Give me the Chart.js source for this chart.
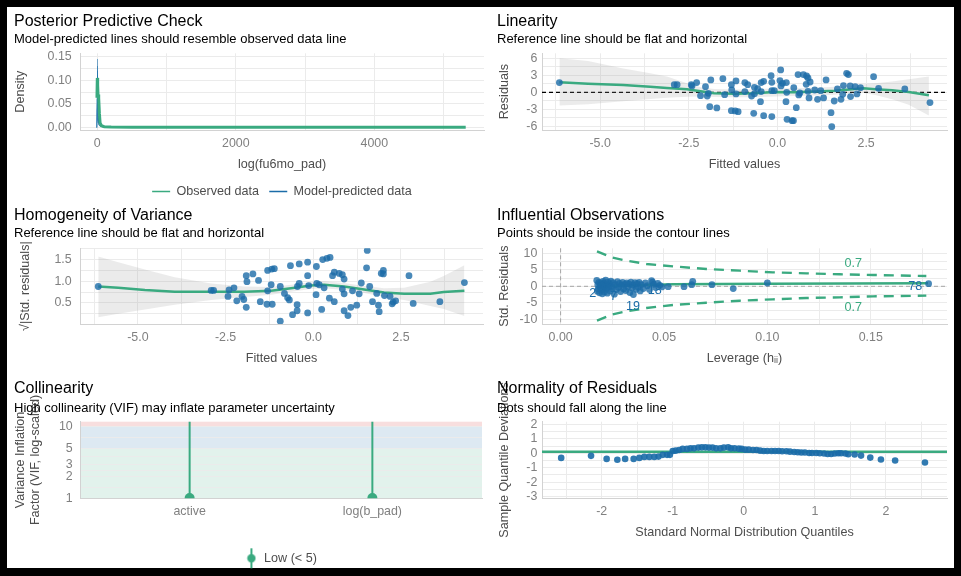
<!DOCTYPE html>
<html lang="en">
<head>
    <meta charset="UTF-8">
    <title>Model diagnostics</title>
    <style>
        html, body { margin: 0; padding: 0; background: #000; overflow: hidden; width: 961px; height: 576px; }
        .sheet { position: absolute; left: 7px; top: 7px; width: 947px; height: 561px; background: #fff; }
        canvas { position: absolute; }
    </style>
</head>
<body>
    <div class="sheet"></div>
    <canvas id="ppc" width="480" height="202" style="left:7px;top:7px"></canvas>
    <canvas id="lin" width="461" height="165" style="left:490px;top:7px"></canvas>
    <canvas id="hom" width="480" height="161" style="left:7px;top:205px"></canvas>
    <canvas id="inf" width="461" height="161" style="left:490px;top:205px"></canvas>
    <canvas id="vif" width="480" height="197" style="left:7px;top:378px"></canvas>
    <canvas id="qq" width="461" height="163" style="left:490px;top:378px"></canvas>

    <script src="https://cdn.jsdelivr.net/npm/chart.js"></script>
    <script>
        // ---- data ----

        // posterior predictive check (density curves)
        const ppcObsX = [-5, 0, 5, 10, 20, 30, 40, 60, 100, 200, 500, 1000, 2000, 3000, 4000, 5320];
        const ppcObsY = [0.063, 0.105, 0.09, 0.07, 0.062, 0.03, 0.01, 0.004, 0.002, 0.0015, 0.001, 0.0009, 0.0008, 0.0008, 0.0008, 0.0008];
        const ppcPredX = [-8, -2, 0, 3, 6, 10, 15, 25, 40, 80, 200, 500, 1100];
        const ppcPred = [
            [0, 0.06, 0.145, 0.1, 0.05, 0.02, 0.01, 0.005, 0.003, 0.002, 0.001, 0.0006, 0.0003],
            [0, 0.08, 0.13, 0.09, 0.06, 0.03, 0.012, 0.006, 0.004, 0.002, 0.001, 0.0005, 0.0002],
            [0, 0.05, 0.12, 0.11, 0.07, 0.025, 0.01, 0.005, 0.003, 0.002, 0.0012, 0.0005, 0.0002],
            [0, 0.07, 0.11, 0.1, 0.08, 0.04, 0.015, 0.007, 0.004, 0.002, 0.001, 0.0006, 0.0003],
            [0, 0.04, 0.1, 0.095, 0.07, 0.035, 0.015, 0.006, 0.003, 0.0015, 0.0009, 0.0004, 0.0002]
        ];
        const ppcLegend = ['Observed data', 'Model-predicted data'];

        // linearity: [fitted, residual]
        const linearityPoints = [
            [-6.15, 1.71], [-2.91, 1.35], [-2.83, 1.35], [-2.43, 1.35], [-2.41, 1.12], [-2.28, 1.71], [-2.17, -0.59],
            [-2.03, 1.0], [-1.98, -0.65], [-1.95, -0.18], [-1.88, 2.18], [-1.91, -2.53], [-1.71, -2.76], [-1.54, 2.41],
            [-1.49, -0.41], [-1.30, 1.35], [-1.29, 0.41], [-1.17, 2.0], [-1.17, -0.29], [-1.30, -3.24], [-1.19, -3.29],
            [-1.11, -3.41], [-0.92, 1.71], [-0.84, 1.35], [-0.92, 0.12], [-0.73, -0.65], [-0.65, 0.88], [-0.56, 0.65],
            [-0.67, -3.71], [-0.46, 1.71], [-0.39, 1.94], [-0.46, 0.12], [-0.48, -1.65], [-0.39, -4.12], [-0.18, 2.94],
            [-0.16, 1.76], [-0.16, 0.29], [-0.16, -4.29], [0.09, 3.94], [0.07, 2.06], [0.10, 1.12], [0.14, 1.59],
            [0.25, 1.71], [0.26, 0.0], [0.24, -1.65], [0.27, -4.76], [0.41, -5.0], [0.45, -5.0], [0.46, 0.82],
            [0.53, -2.71], [0.60, -0.47], [0.58, 3.12], [0.73, 3.12], [0.82, 2.88], [0.86, 2.53], [0.92, 1.82],
            [0.81, 1.41], [0.86, 0.18], [0.89, -1.0], [1.05, 0.41], [1.13, -1.24], [1.22, 0.29], [1.30, -1.0],
            [1.37, 2.18], [1.51, -3.59], [1.53, -6.06], [1.60, -1.53], [1.69, 0.59], [1.79, -1.24], [1.84, -0.35],
            [1.86, 1.18], [1.95, 3.35], [2.00, 3.12], [2.05, 1.12], [2.06, -0.76], [2.19, 1.0], [2.24, -0.29],
            [2.34, 0.82], [2.71, 2.76], [2.85, 0.71], [3.59, 0.59], [4.30, -1.82], [-0.65, -0.24], [-0.09, 0.29], [0.63, -0.12]
        ];
        const linSmoothX = [-6.15, -5.34, -4.35, -3.59, -3.12, -2.55, -2.17, -1.79, -1.22, -0.65, -0.09, 0.48, 1.05, 1.62, 2.19, 2.42, 2.76, 3.23, 3.70, 4.27];
        const linSmoothY = [1.76, 1.53, 1.29, 1.0, 0.76, 0.53, 0.18, -0.18, -0.24, -0.18, 0.06, 0.0, 0.12, 0.29, 0.59, 0.71, 0.53, 0.35, 0.06, -0.53];
        const linBandHi = [6.0, 5.5, 4.2, 3.35, 2.8, 1.6, 0.9, 0.6, 0.5, 0.5, 0.7, 0.7, 0.8, 1.0, 1.2, 1.4, 1.6, 1.9, 2.3, 2.8];
        const linBandLo = [-2.35, -2.1, -1.6, -1.2, -0.95, -0.8, -0.76, -0.85, -0.88, -0.88, -0.75, -0.65, -0.55, -0.45, -0.06, -0.1, -0.47, -1.24, -2.2, -4.1];

        // homogeneity of variance: [fitted, sqrt|std. residual|]
        const homogeneityPoints = [
            [-6.13, 0.88], [-2.91, 0.79], [-2.84, 0.79], [-2.43, 0.65], [-2.40, 0.80], [-2.26, 0.85], [-2.18, 0.55],
            [-2.03, 0.65], [-1.98, 0.58], [-1.91, 0.40], [-1.91, 1.13], [-1.89, 0.99], [-1.72, 1.17], [-1.56, 1.02],
            [-1.51, 0.53], [-1.32, 0.47], [-1.30, 1.25], [-1.18, 1.28], [-1.11, 1.29], [-1.20, 0.92], [-1.17, 0.47],
            [-1.30, 0.78], [-0.94, 0.88], [-0.94, 0.08], [-0.82, 0.72], [-0.73, 0.62], [-0.68, 0.57], [-0.65, 1.36],
            [-0.59, 0.23], [-0.46, 0.46], [-0.46, 0.32], [-0.45, 0.88], [-0.40, 0.95], [-0.40, 1.40], [-0.16, 1.13],
            [-0.16, 1.44], [-0.16, 0.27], [-0.13, 0.90], [0.08, 0.69], [0.09, 1.34], [0.10, 0.95], [0.17, 0.92],
            [0.24, 0.35], [0.27, 1.50], [0.39, 1.53], [0.48, 1.55], [0.31, 0.85], [0.46, 0.61], [0.55, 1.13],
            [0.60, 0.53], [0.60, 1.21], [0.74, 1.18], [0.83, 1.15], [0.88, 1.05], [0.83, 0.82], [0.88, 0.71],
            [0.88, 0.32], [0.99, 0.21], [1.07, 0.40], [1.12, 0.78], [1.24, 0.45], [1.31, 0.71], [1.37, 0.96],
            [1.52, 1.31], [1.54, 1.71], [1.61, 0.88], [1.69, 0.53], [1.81, 0.72], [1.86, 0.45], [1.88, 0.30],
            [1.94, 1.18], [2.00, 1.25], [2.00, 1.17], [2.03, 0.67], [2.19, 0.65], [2.25, 0.48], [2.28, 0.52],
            [2.35, 0.55], [2.73, 1.13], [2.85, 0.49], [3.61, 0.53], [4.31, 0.97]
        ];
        const homSmoothX = [-6.13, -5.56, -4.80, -3.95, -2.91, -1.96, -1.20, -0.63, -0.07, 0.31, 0.88, 1.45, 2.02, 2.59, 3.34, 3.72, 4.31];
        const homSmoothY = [0.88, 0.85, 0.80, 0.76, 0.76, 0.76, 0.78, 0.84, 0.90, 0.92, 0.88, 0.81, 0.74, 0.71, 0.71, 0.75, 0.78];
        const homBandHi = [1.57, 1.44, 1.27, 1.09, 0.95, 0.88, 0.87, 0.92, 0.98, 1.0, 0.96, 0.89, 0.84, 0.85, 0.99, 1.12, 1.37];
        const homBandLo = [0.17, 0.25, 0.35, 0.46, 0.57, 0.64, 0.69, 0.76, 0.82, 0.84, 0.80, 0.73, 0.64, 0.57, 0.43, 0.36, 0.20];

        // influential observations: [leverage, std. residual]
        const influencePoints = [
            [0.0175, 1.8], [0.0178, -1.5], [0.018, 0.5], [0.0182, -0.8], [0.0185, 1.2], [0.0188, -2.0], [0.019, 0.2],
            [0.0192, -0.3], [0.0195, 1.0], [0.0198, -1.2], [0.020, 0.6], [0.0202, -2.3], [0.0205, 1.5], [0.0208, -0.6],
            [0.021, 0.9], [0.0212, -1.7], [0.0215, 0.1], [0.0218, 1.9], [0.022, -0.9], [0.0223, 0.4], [0.0226, -2.1],
            [0.023, 1.3], [0.0233, -0.2], [0.0236, 0.8], [0.024, -1.4], [0.0243, 1.6], [0.0247, 0.0], [0.025, -0.7],
            [0.0255, 1.1], [0.026, -2.4], [0.0265, 0.5], [0.027, -1.0], [0.0275, 1.4], [0.028, -0.4], [0.0285, 0.9],
            [0.029, -1.6], [0.0295, 0.3], [0.030, 1.2], [0.0305, -0.8], [0.031, 0.6], [0.0315, -1.3], [0.032, 1.0],
            [0.0325, -0.1], [0.033, 0.7], [0.0335, -1.9], [0.034, 1.3], [0.0345, -0.5], [0.035, 0.4], [0.0352, -2.5],
            [0.036, 1.1], [0.0365, -0.9], [0.037, 0.8], [0.0375, -0.3], [0.038, 1.2], [0.0385, -1.4], [0.039, 0.5],
            [0.040, -0.7], [0.041, 1.0], [0.042, 0.2], [0.043, -1.0], [0.044, 1.7], [0.0445, 1.3], [0.045, 0.6],
            [0.046, -0.4], [0.047, 0.9], [0.048, 0.3], [0.049, -0.2], [0.052, -0.1], [0.0597, -0.1], [0.0634, 0.5],
            [0.0639, 1.5], [0.0732, 0.5], [0.0835, -0.7], [0.100, 1.0], [0.178, 0.8]
        ];
        const infSmoothX = [0.0177, 0.0382, 0.0544, 0.0995, 0.1777];
        const infSmoothY = [0.0, 0.31, 0.61, 0.81, 0.91];
        const contourX = [0.0176, 0.0245, 0.0318, 0.0415, 0.0544, 0.0705, 0.0866, 0.1027, 0.1189, 0.135, 0.1511, 0.1769];
        const contourUpper = [10.65, 8.82, 7.81, 6.79, 6.08, 5.27, 4.76, 4.25, 3.95, 3.65, 3.44, 3.14];
        const contourLower = [-10.47, -8.64, -7.62, -6.61, -5.70, -4.99, -4.38, -3.97, -3.56, -3.36, -3.06, -2.85];
        const infLabelText = ['2', '7', '18', '19', '78'];
        const infLabelLev = [0.0156, 0.0256, 0.0455, 0.035, 0.1716];
        const infLabelRes = [-2.35, -3.05, -1.33, -6.1, -0.1];
        const contourLabelText = ['0.7', '0.7'];
        const contourLabelLev = [0.1415, 0.1415];
        const contourLabelRes = [7.0, -6.6];

        // collinearity
        const vifCategories = ['active', 'log(b_pad)'];
        const vifValues = [1.01, 1.01];
        const vifUpper = [16, 16];
        const vifZones = [1, 5, 10, 100];
        const vifLegendLabels = ['Low (< 5)'];

        // normality: [theoretical quantile, sample deviation]
        const qqPoints = [
            [-2.57, -0.32], [-2.15, -0.18], [-1.93, -0.39], [-1.78, -0.45], [-1.67, -0.39], [-1.55, -0.39], [-1.47, -0.32],
            [-1.40, -0.25], [-1.33, -0.25], [-1.26, -0.25], [-1.20, -0.23], [-1.14, -0.11], [-1.08, -0.11], [-1.04, -0.11],
            [-1.00, 0.16], [-0.96, 0.18], [-0.91, 0.23], [-0.86, 0.30], [-0.80, 0.30], [-0.75, 0.34], [-0.70, 0.34],
            [-0.64, 0.39], [-0.59, 0.41], [-0.54, 0.41], [-0.49, 0.39], [-0.44, 0.39], [-0.39, 0.34], [-0.33, 0.34],
            [-0.28, 0.39], [-0.22, 0.41], [-0.18, 0.34], [-0.13, 0.34], [-0.07, 0.32], [-0.03, 0.30], [0.02, 0.25],
            [0.07, 0.25], [0.13, 0.23], [0.18, 0.23], [0.23, 0.18], [0.28, 0.16], [0.33, 0.16], [0.39, 0.16],
            [0.44, 0.16], [0.49, 0.16], [0.54, 0.14], [0.60, 0.14], [0.65, 0.11], [0.71, 0.09], [0.76, 0.07],
            [0.81, 0.05], [0.86, 0.05], [0.92, 0.02], [0.96, 0.02], [1.02, 0.02], [1.07, 0.0], [1.13, -0.02],
            [1.18, -0.05], [1.23, -0.05], [1.28, -0.02], [1.33, 0.0], [1.37, 0.0], [1.43, -0.02], [1.47, -0.07],
            [1.56, -0.09], [1.65, -0.16], [1.78, -0.30], [1.93, -0.43], [2.13, -0.50], [2.55, -0.64]
        ];
        const qqRefLine = [0.1];

        // tick values and labels
        const ppcXTicks = [0, 2000, 4000], ppcXLabels = ['0', '2000', '4000'];
        const ppcYTicks = [0, 0.05, 0.1, 0.15], ppcYLabels = ['0.00', '0.05', '0.10', '0.15'];
        const fittedTicks = [-5, -2.5, 0, 2.5], fittedLabels = ['-5.0', '-2.5', '0.0', '2.5'];
        const residTicks = [-6, -3, 0, 3, 6], residLabels = ['-6', '-3', '0', '3', '6'];
        const sqrtTicks = [0.5, 1, 1.5], sqrtLabels = ['0.5', '1.0', '1.5'];
        const levTicks = [0, 0.05, 0.1, 0.15], levLabels = ['0.00', '0.05', '0.10', '0.15'];
        const stdResTicks = [-10, -5, 0, 5, 10], stdResLabels = ['-10', '-5', '0', '5', '10'];
        const vifTicks = [1, 2, 3, 5, 10], vifTickLabels = ['1', '2', '3', '5', '10'];
        const qqXTicks = [-2, -1, 0, 1, 2], qqXLabels = ['-2', '-1', '0', '1', '2'];
        const qqYTicks = [-3, -2, -1, 0, 1, 2], qqYLabels = ['-3', '-2', '-1', '0', '1', '2'];

        // ---- drawing ----
        const GREEN = '#3aaa80';
        const BLUE = '#1b6ca8';
        const FONT = "'Liberation Sans', Arial, sans-serif";

        Chart.defaults.font.family = FONT;
        Chart.defaults.animation = false;
        Chart.defaults.events = [];
        Chart.defaults.plugins.tooltip.enabled = false;

        // reference lines, background zones and text labels placed through the scales
        const refs = {
            id: 'refs',
            beforeDraw(chart, args, o) {
                const { ctx, chartArea: a, scales: { y } } = chart;
                (o.zones || []).forEach(z => {
                    const top = y.getPixelForValue(Math.min(z.to, y.max));
                    const bot = y.getPixelForValue(Math.max(z.from, y.min));
                    ctx.fillStyle = z.color;
                    ctx.fillRect(a.left, top, a.right - a.left, bot - top);
                });
            },
            beforeDatasetsDraw(chart, args, o) {
                const { ctx, chartArea: a, scales: { x, y } } = chart;
                ctx.save();
                (o.lines || []).forEach(l => {
                    ctx.beginPath();
                    ctx.strokeStyle = l.color;
                    ctx.lineWidth = l.width;
                    ctx.setLineDash(l.dash || []);
                    if (l.axis === 'y') {
                        const p = y.getPixelForValue(l.value);
                        ctx.moveTo(a.left, p); ctx.lineTo(a.right, p);
                    } else {
                        const p = x.getPixelForValue(l.value);
                        ctx.moveTo(p, a.top); ctx.lineTo(p, a.bottom);
                    }
                    ctx.stroke();
                });
                ctx.restore();
            },
            afterDatasetsDraw(chart, args, o) {
                const { ctx, scales: { x, y } } = chart;
                ctx.save();
                ctx.font = '12.6px ' + FONT;
                ctx.textAlign = 'center';
                ctx.textBaseline = 'middle';
                (o.texts || []).forEach(t => {
                    ctx.fillStyle = t.color;
                    ctx.fillText(t.text, x.getPixelForValue(t.x), y.getPixelForValue(t.y));
                });
                ctx.restore();
            }
        };
        Chart.register(refs);

        function axis(pos, o) {
            const all = o.major.concat(o.minor || []).sort((a, b) => a - b);
            return {
                type: o.type || 'linear',
                position: pos,
                bounds: 'data',
                min: o.min,
                max: o.max,
                afterBuildTicks: s => { s.ticks = all.map(v => ({ value: v })); },
                afterFit: s => { if (pos === 'left') s.width = o.size; else s.height = o.size; },
                grid: { display: o.grid !== false, color: '#ebebeb', lineWidth: 1, drawTicks: false },
                border: { display: true, color: '#d2d2d2', width: 1 },
                ticks: {
                    padding: o.pad, color: '#808080', font: { size: 12.4 }, maxRotation: 0, autoSkip: false,
                    callback: v => { const i = o.major.indexOf(v); return i < 0 ? '' : o.labels[i]; }
                },
                title: {
                    display: !!o.title, text: o.title, color: '#4d4d4d', font: { size: 12.6 },
                    padding: pos === 'left' ? { top: o.tpad || 0, bottom: 0 } : { top: 0, bottom: o.tpad || 0 }
                }
            };
        }

        const pts = (pairs, color, r) => ({
            data: pairs.map(([x, y]) => ({ x, y })),
            backgroundColor: color, pointBackgroundColor: color,
            pointBorderWidth: 0, borderWidth: 0, pointRadius: r
        });
        const line = (xs, ys, color, w, dash) => ({
            type: 'line', data: xs.map((x, i) => ({ x, y: ys[i] })),
            borderColor: color, borderWidth: w, borderDash: dash || [], pointRadius: 0, fill: false, tension: 0
        });
        const band = (xs, hi, lo) => [
            { type: 'line', data: xs.map((x, i) => ({ x, y: hi[i] })), borderWidth: 0, pointRadius: 0,
              fill: '+1', backgroundColor: 'rgba(153,153,153,0.2)', tension: 0 },
            { type: 'line', data: xs.map((x, i) => ({ x, y: lo[i] })), borderWidth: 0, pointRadius: 0, fill: false, tension: 0 }
        ];

        function panel(id, o) {
            return new Chart(document.getElementById(id), {
                type: 'scatter',
                data: { datasets: o.datasets },
                options: {
                    responsive: false,
                    layout: { padding: o.padding },
                    scales: { x: o.x, y: o.y },
                    plugins: {
                        title: { display: true, text: o.title, align: 'start', color: '#000', font: { size: 16, weight: 'normal' }, padding: o.tp },
                        subtitle: { display: true, text: o.subtitle, align: 'start', color: '#000', font: { size: 13 }, padding: o.sp },
                        legend: o.legend || { display: false },
                        refs: o.refs || {}
                    }
                }
            });
        }

        const rowTop1 = { tp: { top: 4.7, bottom: 1.1 }, sp: { top: 0, bottom: 5.7 } };
        const rowTop2 = { tp: { top: 0.7, bottom: 1.1 }, sp: { top: 0, bottom: 6.7 } };
        const rowTop3 = { tp: { top: 1.4, bottom: 2.4 }, sp: { top: 0, bottom: 5.1 } };

        // Posterior Predictive Check
        panel('ppc', {
            ...rowTop1,
            title: 'Posterior Predictive Check',
            subtitle: 'Model-predicted lines should resemble observed data line',
            padding: { left: 7, right: 3, top: 0, bottom: 1.2 },
            datasets: [line(ppcObsX, ppcObsY, GREEN, 3)]
                .concat(ppcPred.map(ys => line(ppcPredX, ys, 'rgba(27,108,168,0.35)', 1))),
            x: axis('bottom', { min: -250, max: 5584, major: ppcXTicks, labels: ppcXLabels, minor: [1000, 3000, 5000],
                size: 45, pad: 6.3, title: 'log(fu6mo_pad)', tpad: 3.1 }),
            y: axis('left', { min: -0.005, max: 0.157, major: ppcYTicks, labels: ppcYLabels, minor: [0.025, 0.075, 0.125],
                size: 66, pad: 8.3, title: 'Density', tpad: -1 }),
            legend: {
                display: true, position: 'bottom', fullSize: false,
                labels: {
                    boxWidth: 18, boxHeight: 1.5, padding: 10.2, color: '#4d4d4d', font: { size: 12.6 },
                    generateLabels: () => [GREEN, BLUE].map((c, i) => ({
                        text: ppcLegend[i], fillStyle: c, strokeStyle: c, lineWidth: 0, fontColor: '#4d4d4d', datasetIndex: i
                    }))
                }
            }
        });

        // Linearity
        panel('lin', {
            ...rowTop1,
            title: 'Linearity',
            subtitle: 'Reference line should be flat and horizontal',
            padding: { left: 7, right: 4, top: 0, bottom: 0 },
            datasets: [
                pts(linearityPoints, 'rgba(27,108,168,0.8)', 3.4),
                line(linSmoothX, linSmoothY, GREEN, 2.5)
            ].concat(band(linSmoothX, linBandHi, linBandLo)),
            x: axis('bottom', { min: -6.64, max: 4.78, major: fittedTicks, labels: fittedLabels, minor: [-6.25, -3.75, -1.25, 1.25, 3.75],
                size: 42, pad: 6.3, title: 'Fitted values', tpad: 0.1 }),
            y: axis('left', { min: -6.65, max: 6.88, major: residTicks, labels: residLabels, minor: [-4.5, -1.5, 1.5, 4.5],
                size: 45, pad: 4.7, title: 'Residuals', tpad: 0 }),
            refs: { lines: [{ axis: 'y', value: 0, color: '#000', width: 1.2, dash: [4, 3] }] }
        });

        // Homogeneity of Variance
        panel('hom', {
            ...rowTop2,
            title: 'Homogeneity of Variance',
            subtitle: 'Reference line should be flat and horizontal',
            padding: { left: 7, right: 3, top: 0, bottom: 0 },
            datasets: [
                pts(homogeneityPoints, 'rgba(27,108,168,0.8)', 3.4),
                line(homSmoothX, homSmoothY, GREEN, 2.5)
            ].concat(band(homSmoothX, homBandHi, homBandLo)),
            x: axis('bottom', { min: -6.65, max: 4.84, major: fittedTicks, labels: fittedLabels, minor: [-6.25, -3.75, -1.25, 1.25, 3.75],
                size: 42, pad: 6.3, title: 'Fitted values', tpad: 0.4 }),
            y: axis('left', { min: 0.015, max: 1.76, major: sqrtTicks, labels: sqrtLabels, minor: [0.25, 0.75, 1.25, 1.75],
                size: 66, pad: 8.3, title: '√|Std. residuals|', tpad: 4.1 })
        });

        // Influential Observations
        panel('inf', {
            ...rowTop2,
            title: 'Influential Observations',
            subtitle: 'Points should be inside the contour lines',
            padding: { left: 7, right: 4, top: 0, bottom: 0 },
            datasets: [
                pts(influencePoints, 'rgba(27,108,168,0.8)', 3.4),
                line(infSmoothX, infSmoothY, GREEN, 2.5),
                line(contourX, contourUpper, GREEN, 2.4, [10, 7]),
                line(contourX, contourLower, GREEN, 2.4, [10, 7])
            ],
            x: axis('bottom', { min: -0.009, max: 0.1869, major: levTicks, labels: levLabels, minor: [0.025, 0.075, 0.125, 0.175],
                size: 42, pad: 6.3, title: 'Leverage (hᵢᵢ)', tpad: 0.4 }),
            y: axis('left', { min: -11.48, max: 11.57, major: stdResTicks, labels: stdResLabels, minor: [-7.5, -2.5, 2.5, 7.5],
                size: 45, pad: 4.7, title: 'Std. Residuals', tpad: 0 }),
            refs: {
                lines: [
                    { axis: 'x', value: 0, color: '#a6a6a6', width: 1, dash: [4, 3] },
                    { axis: 'y', value: 0, color: '#a6a6a6', width: 1, dash: [4, 3] }
                ],
                texts: infLabelText.map((t, i) => ({ text: t, x: infLabelLev[i], y: infLabelRes[i], color: BLUE }))
                    .concat(contourLabelText.map((t, i) => ({ text: t, x: contourLabelLev[i], y: contourLabelRes[i], color: GREEN })))
            }
        });

        // Collinearity
        const vifMarker = document.createElement('canvas');
        vifMarker.width = 10;
        vifMarker.height = 22;
        const mk = vifMarker.getContext('2d');
        mk.strokeStyle = GREEN; mk.lineWidth = 2;
        mk.beginPath(); mk.moveTo(5, 1); mk.lineTo(5, 21); mk.stroke();
        mk.fillStyle = GREEN;
        mk.beginPath(); mk.arc(5, 11, 4.2, 0, Math.PI * 2); mk.fill();

        panel('vif', {
            ...rowTop3,
            title: 'Collinearity',
            subtitle: 'High collinearity (VIF) may inflate parameter uncertainty',
            padding: { left: 7, right: 3, top: 0, bottom: 0.4 },
            datasets: [
                pts(vifCategories.map((c, i) => [i + 1, vifValues[i]]), GREEN, 5),
                {
                    type: 'line', borderColor: GREEN, borderWidth: 2, pointRadius: 0, fill: false,
                    data: vifCategories.flatMap((c, i) => [{ x: i + 1, y: vifValues[i] }, { x: i + 1, y: vifUpper[i] }, { x: i + 1.5, y: null }])
                }
            ],
            x: axis('bottom', { min: 0.4, max: 2.6, major: [1, 2], labels: vifCategories, grid: false, size: 42, pad: 6.3 }),
            y: axis('left', { type: 'logarithmic', min: 1, max: 11.74, major: vifTicks, labels: vifTickLabels, minor: [1.41, 2.45, 3.87, 7.07],
                size: 66, pad: 7.3, title: ['Variance Inflation', 'Factor (VIF, log-scaled)'], tpad: -1 }),
            refs: {
                zones: [
                    { from: vifZones[0], to: vifZones[1], color: 'rgba(58,170,128,0.15)' },
                    { from: vifZones[1], to: vifZones[2], color: 'rgba(27,108,168,0.15)' },
                    { from: vifZones[2], to: vifZones[3], color: 'rgba(205,32,31,0.15)' }
                ]
            },
            legend: {
                display: true, position: 'bottom', fullSize: false,
                labels: {
                    usePointStyle: true, padding: 11.7, color: '#4d4d4d', font: { size: 12.6 },
                    generateLabels: () => vifLegendLabels.map(t => ({
                        text: t, pointStyle: vifMarker, fillStyle: GREEN, strokeStyle: GREEN, lineWidth: 0, fontColor: '#4d4d4d'
                    }))
                }
            }
        });

        // Normality of Residuals
        panel('qq', {
            ...rowTop3,
            title: 'Normality of Residuals',
            subtitle: 'Dots should fall along the line',
            padding: { left: 7, right: 4, top: 0, bottom: 0.7 },
            datasets: [pts(qqPoints, 'rgba(27,108,168,0.9)', 3.3)],
            x: axis('bottom', { min: -2.84, max: 2.86, major: qqXTicks, labels: qqXLabels, minor: [-2.5, -1.5, -0.5, 0.5, 1.5, 2.5],
                size: 42, pad: 6.3, title: 'Standard Normal Distribution Quantiles', tpad: 0 }),
            y: axis('left', { min: -3.11, max: 2.18, major: qqYTicks, labels: qqYLabels, minor: [-2.5, -1.5, -0.5, 0.5, 1.5],
                size: 45, pad: 4.7, title: 'Sample Quantile Deviations', tpad: 0 }),
            refs: { lines: [{ axis: 'y', value: qqRefLine[0], color: GREEN, width: 2.5 }] }
        });
    </script>
</body>
</html>
